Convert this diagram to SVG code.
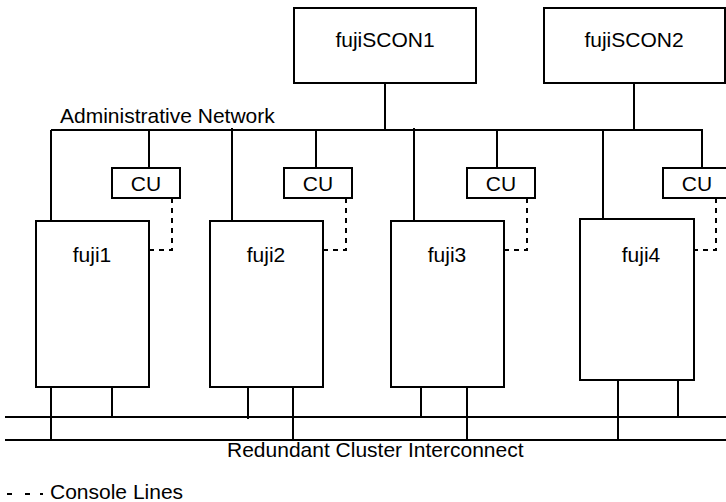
<svg xmlns="http://www.w3.org/2000/svg" width="726" height="502" viewBox="0 0 726 502">
<style>
.box{fill:#fff;stroke:#000;stroke-width:2}
.ln{fill:none;stroke:#000;stroke-width:2}
.dash{fill:none;stroke:#000;stroke-width:2;stroke-dasharray:5 5}
text{font-family:"Liberation Sans",Arial,sans-serif;font-size:21px;fill:#000}
.c{text-anchor:middle}
</style>
<rect width="726" height="502" fill="#fff"/>
<g id="connectors">
<path class="ln" d="M51 130H702V168M385 83V130M634 83V130M51 130V221M149 130V168M232 128V221M316 130V168M414 128V221M497 130V168M603 130V219"/>
<path class="ln" d="M5 417H726M5 440H726"/>
<path class="ln" d="M51 387V440M112 387V417M248 387V419M293 387V441M421 387V418M467 387V441M618 380V440M678 380V417"/>
<path class="dash" d="M172 198V250H149M346 198V250H323M527 198V250H504M716 198V250H694"/>
</g>
<g id="fujiSCON1"><rect class="box" x="294" y="8" width="182" height="75"/><text class="c" x="385" y="47">fujiSCON1</text></g>
<g id="fujiSCON2"><rect class="box" x="544" y="8" width="181" height="75"/><text class="c" x="634" y="47">fujiSCON2</text></g>
<g id="cu1"><rect class="box" x="112" y="168" width="68" height="30"/><text class="c" x="146" y="191">CU</text></g>
<g id="cu2"><rect class="box" x="284" y="168" width="68" height="30"/><text class="c" x="318" y="191">CU</text></g>
<g id="cu3"><rect class="box" x="467" y="168" width="68" height="30"/><text class="c" x="501" y="191">CU</text></g>
<g id="cu4"><rect class="box" x="663" y="168" width="68" height="30"/><text class="c" x="697" y="191">CU</text></g>
<g id="fuji1"><rect class="box" x="36" y="221" width="113" height="166"/><text class="c" x="92" y="262">fuji1</text></g>
<g id="fuji2"><rect class="box" x="210" y="221" width="113" height="166"/><text class="c" x="266" y="262">fuji2</text></g>
<g id="fuji3"><rect class="box" x="391" y="221" width="113" height="166"/><text class="c" x="447" y="262">fuji3</text></g>
<g id="fuji4"><rect class="box" x="580" y="219" width="114" height="161"/><text class="c" x="641" y="262">fuji4</text></g>
<g id="labels">
<text x="60" y="123">Administrative Network</text>
<text x="227" y="457">Redundant Cluster Interconnect</text>
<path class="ln" d="M7 494h5M25 494h5M40 494h3"/>
<text x="50" y="499">Console Lines</text>
</g>
</svg>
